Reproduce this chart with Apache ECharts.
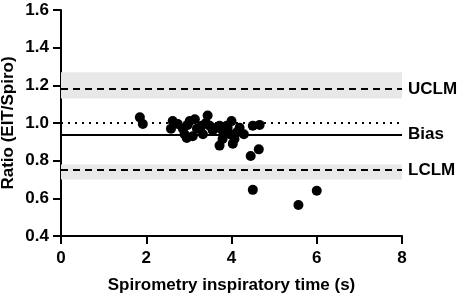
<!DOCTYPE html>
<html>
<head>
<meta charset="utf-8">
<script src="https://cdn.jsdelivr.net/npm/echarts@6/dist/echarts.min.js"></script>
<style>
  html, body { margin: 0; padding: 0; background: #fff; }
</style>
</head>
<body>
<div id="myChart1" style="width: 457px; height: 298px;"></div>
<script>
// spirometry inspiratory time (s)
var timeData = [1.85, 1.92, 2.58, 2.62, 2.74, 2.86, 2.95, 2.9, 3.02, 3.14,
  3.19, 3.09, 3.3, 3.33, 3.44, 3.49, 3.56, 3.65, 3.72, 3.79,
  3.72, 3.91, 4.0, 3.89, 3.79, 3.96, 4.07, 4.03, 4.19, 4.12,
  4.5, 4.66, 4.64, 4.45, 4.5, 5.57, 6.0, 2.97, 3.4, 4.29];
// ratio EIT / Spiro
var ratioData = [1.03, 0.995, 0.97, 1.01, 0.995, 0.97, 0.92, 0.94, 1.01, 1.02,
  0.97, 0.93, 0.985, 0.94, 1.04, 0.985, 0.96, 0.975, 0.985, 0.915,
  0.88, 0.975, 1.01, 0.985, 0.96, 0.94, 0.915, 0.89, 0.975, 0.95,
  0.985, 0.99, 0.86, 0.825, 0.645, 0.565, 0.64, 0.99, 1.0, 0.94];

var lineNames = ["UCLM", "Bias", "LCLM", ""];
var lineValues = [1.18, 0.94, 0.75, 1.0];
var lineTypes = ["dashed", "solid", "dashed", "dotted"];
// confidence bands round the limits of agreement
var bandLow = [1.13, 0.70];
var bandHigh = [1.27, 0.78];

var xTicks = [0, 8, 2];   // min, max, interval
var yTicks = [0.4, 1.6, 0.2];

var font = "Liberation Sans, Arial, sans-serif";

var points = timeData.map(function (t, i) {
  return [t, ratioData[i]];
});

var refLines = lineValues.map(function (v, i) {
  return {
    yAxis: v,
    lineStyle: {
      type: lineTypes[i] == "dashed" ? [7, 5] : (lineTypes[i] == "dotted" ? [2, 5] : "solid"),
      color: "#000",
      width: 2
    },
    label: {
      show: lineNames[i] != "",
      formatter: lineNames[i],
      position: "end",
      distance: 6,
      color: "#000",
      fontSize: 17,
      fontWeight: "bold",
      fontFamily: font
    }
  };
});

var bands = bandLow.map(function (lo, i) {
  return [{ yAxis: lo }, { yAxis: bandHigh[i] }];
});

var myChart = echarts.init(document.getElementById("myChart1"));
var option = {
  animation: false,
  grid: {
    left: 61,
    right: 55,
    top: 10,
    bottom: 62,
    containLabel: false,
    outerBoundsMode: "none"
  },
  xAxis: {
    type: "value",
    min: xTicks[0],
    max: xTicks[1],
    interval: xTicks[2],
    name: "Spirometry inspiratory time (s)",
    nameLocation: "middle",
    nameGap: 41,
    nameMoveOverlap: false,
    nameTextStyle: { color: "#000", fontSize: 17, fontWeight: "bold", fontFamily: font },
    axisLine: { lineStyle: { color: "#000", width: 2 } },
    axisTick: { show: true, length: 8, lineStyle: { color: "#000", width: 2 } },
    axisLabel: { color: "#000", fontSize: 17, fontWeight: "bold", fontFamily: font, margin: 14 },
    splitLine: { show: false }
  },
  yAxis: {
    type: "value",
    min: yTicks[0],
    max: yTicks[1],
    interval: yTicks[2],
    name: "Ratio (EIT/Spiro)",
    nameLocation: "middle",
    nameGap: 44,
    nameMoveOverlap: false,
    nameTextStyle: { color: "#000", fontSize: 17, fontWeight: "bold", fontFamily: font },
    axisLine: { show: true, lineStyle: { color: "#000", width: 2 } },
    axisTick: { show: true, length: 8, lineStyle: { color: "#000", width: 2 } },
    axisLabel: {
      color: "#000", fontSize: 17, fontWeight: "bold", fontFamily: font, margin: 12,
      formatter: function (v) { return v.toFixed(1); }
    },
    splitLine: { show: false }
  },
  series: [
    {
      type: "scatter",
      data: points,
      symbolSize: 10,
      itemStyle: { color: "#000", opacity: 1 },
      z: 5,
      markArea: {
        silent: true,
        itemStyle: { color: "#e8e8e8" },
        data: bands
      },
      markLine: {
        silent: true,
        symbol: "none",
        data: refLines
      }
    }
  ]
};
myChart.setOption(option);
</script>
</body>
</html>
